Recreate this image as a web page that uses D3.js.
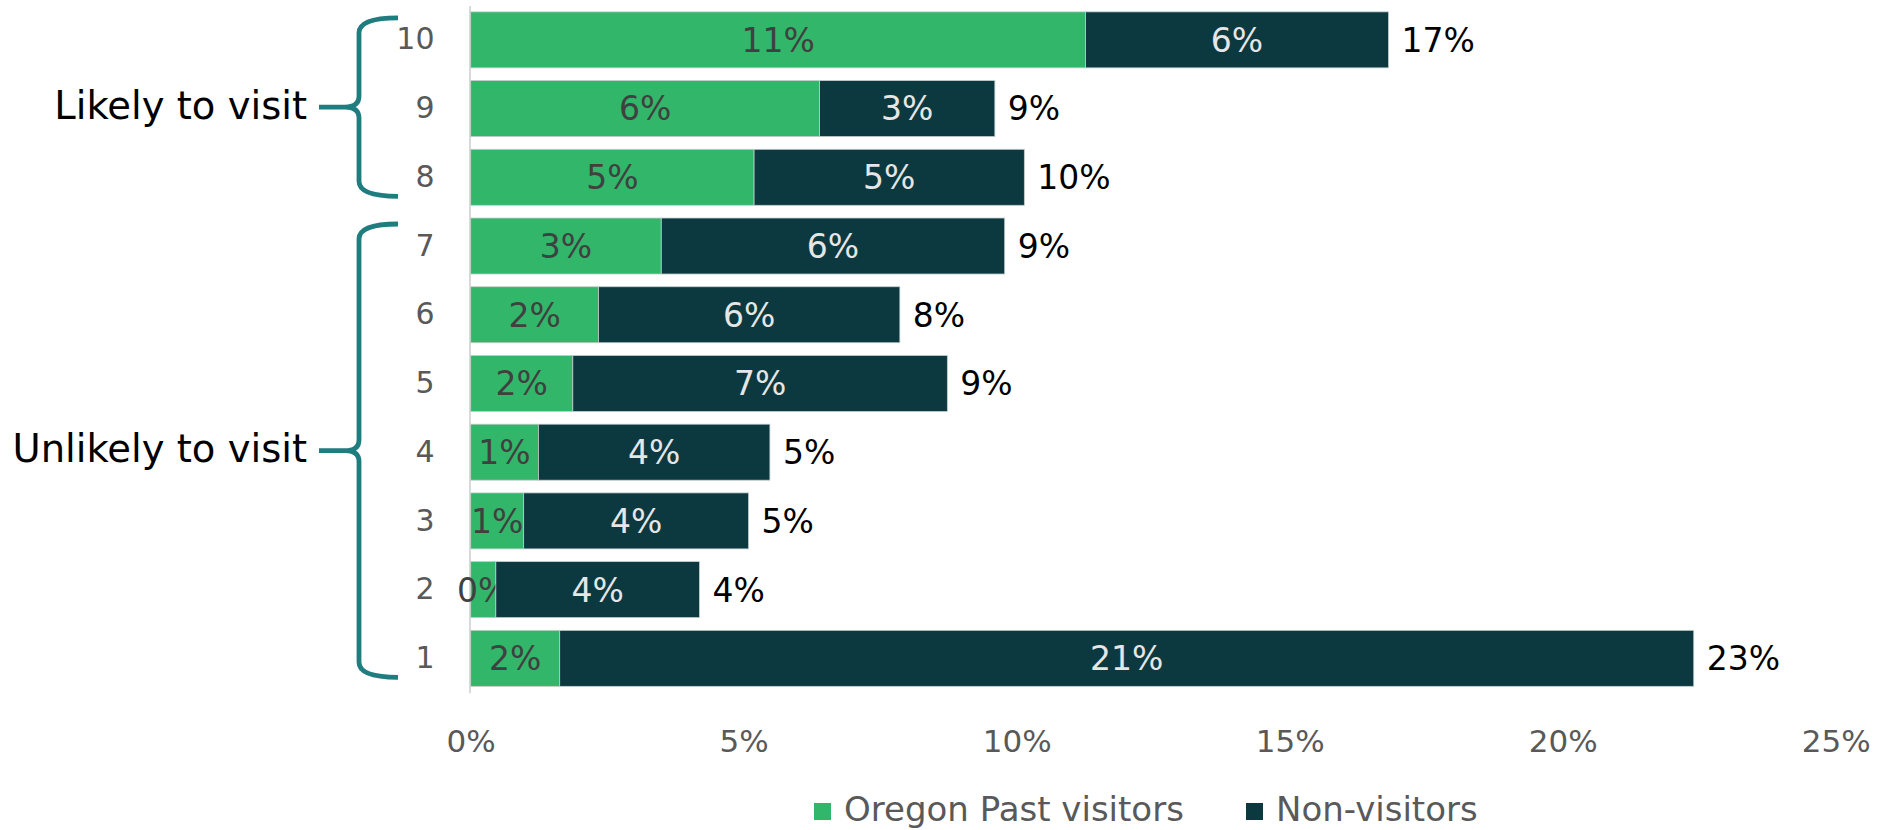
<!DOCTYPE html>
<html>
<head>
<meta charset="utf-8">
<script src="https://cdn.jsdelivr.net/npm/d3@7"></script>
<style>
  body { margin: 0; background: #fff; }
  svg { display: block; }
  text { font-family: "DejaVu Sans", sans-serif; }
</style>
</head>
<body>
<svg id="chart" width="1886" height="830"></svg>
<script>
// Likelihood rating (10 = most likely) and share of respondents, in percent
const categories = ["10", "9", "8", "7", "6", "5", "4", "3", "2", "1"];
const pastVisitors = [11.26, 6.39, 5.19, 3.49, 2.34, 1.87, 1.24, 0.97, 0.46, 1.63];
const nonVisitors  = [5.55, 3.21, 4.95, 6.29, 5.52, 6.86, 4.24, 4.12, 3.73, 20.77];
const seriesNames  = ["Oregon Past visitors", "Non-visitors"];
const xTicks       = [0, 5, 10, 15, 20, 25];
const groupLabels  = ["Likely to visit", "Unlikely to visit"];
const groupFirst   = ["10", "7"];
const groupLast    = ["8", "1"];

const FONT = "'DejaVu Sans', sans-serif";
const colors = { past: "#32b66a", non: "#0c3940", brace: "#1f7c7f" };

const svg = d3.select("#chart");

const x = d3.scaleLinear().domain([0, 25]).range([470.7, 1835.7]);
const y = d3.scaleBand().domain(categories).range([5.5, 692.7])
  .paddingInner(0.185).paddingOuter(0.0925);

const rows = categories.map((c, i) => ({ cat: c, past: pastVisitors[i], non: nonVisitors[i] }));
const keys = ["past", "non"];
const stacked = d3.stack().keys(keys)(rows);

// category axis (its domain line doubles as the vertical baseline)
const yAxis = svg.append("g")
  .attr("transform", `translate(${x(0) - 1.2},0)`)
  .call(d3.axisLeft(y).tickSize(0).tickSizeOuter(0).tickPadding(35));
yAxis.select(".domain").attr("stroke", "#d9d9d9").attr("stroke-width", 2);
yAxis.selectAll("text")
  .attr("font-size", 30).attr("fill", "#595959")
  .style("font-family", FONT);

// value axis, labels only
const xAxis = svg.append("g")
  .attr("transform", `translate(0,${693})`)
  .call(d3.axisBottom(x).tickValues(xTicks).tickFormat(d => d + "%").tickSize(0).tickPadding(37));
xAxis.select(".domain").remove();
xAxis.selectAll("text")
  .attr("font-size", 31).attr("fill", "#595959")
  .style("font-family", FONT);

// stacked bars
const layers = svg.append("g").selectAll("g")
  .data(stacked).join("g")
  .attr("fill", d => colors[d.key]);

layers.selectAll("rect")
  .data(d => d.map(v => ({ v, key: d.key })))
  .join("rect")
  .attr("x", d => x(d.v[0]))
  .attr("y", d => y(d.v.data.cat))
  .attr("width", d => x(d.v[1]) - x(d.v[0]))
  .attr("height", y.bandwidth())
  .attr("stroke", "#c3cece")
  .attr("stroke-width", 0.8);

// segment value labels
const labelFill = { past: "#404040", non: "#e6e6e6" };
layers.selectAll("text")
  .data(d => d.map(v => ({ v, key: d.key })))
  .join("text")
  .attr("x", d => (x(d.v[0]) + x(d.v[1])) / 2)
  .attr("y", d => y(d.v.data.cat) + y.bandwidth() / 2)
  .attr("dy", "0.36em")
  .attr("text-anchor", "middle")
  .attr("font-size", 33)
  .attr("fill", d => labelFill[d.key])
  .text(d => Math.round(d.v[1] - d.v[0]) + "%");

// total labels: sum of the shown (rounded) segment figures
svg.append("g").selectAll("text")
  .data(rows).join("text")
  .attr("x", d => x(d.past + d.non) + 13)
  .attr("y", d => y(d.cat) + y.bandwidth() / 2)
  .attr("dy", "0.36em")
  .attr("font-size", 33)
  .attr("fill", "#000")
  .text(d => (Math.round(d.past) + Math.round(d.non)) + "%");

// group braces with labels
function bracePath(y0, y1) {
  const xEnd = 398, xVert = 359, xTip = 319, ym = (y0 + y1) / 2;
  return [
    `M${xEnd},${y0}`,
    `Q${xVert},${y0} ${xVert},${y0 + 15}`,
    `L${xVert},${ym - 11}`,
    `Q${xVert},${ym} ${xVert - 14},${ym}`,
    `L${xTip},${ym}`,
    `M${xVert - 14},${ym}`,
    `Q${xVert},${ym} ${xVert},${ym + 11}`,
    `L${xVert},${y1 - 15}`,
    `Q${xVert},${y1} ${xEnd},${y1}`
  ].join(" ");
}

const braces = svg.append("g");
groupLabels.forEach((label, i) => {
  const y0 = y(groupFirst[i]) + 6;
  const y1 = y(groupLast[i]) + y.bandwidth() - 9;
  braces.append("path")
    .attr("d", bracePath(y0, y1))
    .attr("fill", "none")
    .attr("stroke", colors.brace)
    .attr("stroke-width", 4.8);
  braces.append("text")
    .attr("x", 307)
    .attr("y", (y0 + y1) / 2)
    .attr("dy", "0.3em")
    .attr("text-anchor", "end")
    .attr("font-size", 38.5)
    .attr("fill", "#000")
    .text(label);
});

// legend
const legend = svg.append("g");
const legendX = [814, 1246];
seriesNames.forEach((name, i) => {
  const g = legend.append("g").attr("transform", `translate(${legendX[i]},803)`);
  g.append("rect").attr("width", 17).attr("height", 17).attr("fill", colors[keys[i]]);
  g.append("text").attr("x", 30).attr("y", 18)
    .attr("font-size", 34).attr("fill", "#595959").text(name);
});
</script>
</body>
</html>
